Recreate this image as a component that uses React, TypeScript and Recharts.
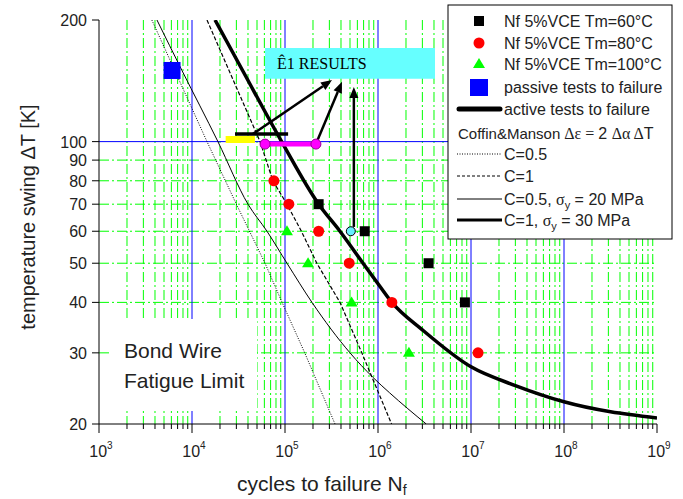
import React from 'react';
import {
  ComposedChart,
  Line,
  Scatter,
  XAxis,
  YAxis,
  CartesianGrid,
  ReferenceLine,
  ReferenceArea,
  Customized,
} from 'recharts';

// ---------- axis ticks / grid values ----------
const xMajorTicks = [1e3, 1e4, 1e5, 1e6, 1e7, 1e8, 1e9];
const xMinorTicks: number[] = [];
for (let k = 3; k < 9; k++) for (let m = 2; m <= 9; m++) xMinorTicks.push(m * Math.pow(10, k));
const xAllTicks = [...xMajorTicks, ...xMinorTicks].sort((a, b) => a - b);
const xBlueGrid = [1e4, 1e5, 1e6, 1e7, 1e8];
const yTicks = [20, 30, 40, 50, 60, 70, 80, 90, 100, 200];
const yGreenGrid = [30, 40, 50, 60, 70, 80, 90];
const yBlueGrid = [100];

// ---------- measured points (n = cycles, t = delta T) ----------
const passiveTests = [{ n: 6.1e3, t: 150 }];
const tm60 = [
  { n: 2.3e5, t: 70 },
  { n: 7.2e5, t: 60 },
  { n: 3.5e6, t: 50 },
  { n: 8.6e6, t: 40 },
];
const tm80 = [
  { n: 7.6e4, t: 80 },
  { n: 1.1e5, t: 70 },
  { n: 2.3e5, t: 60 },
  { n: 4.9e5, t: 50 },
  { n: 1.41e6, t: 40 },
  { n: 1.19e7, t: 30 },
];
const tm100 = [
  { n: 1.05e5, t: 60 },
  { n: 1.77e5, t: 50 },
  { n: 5.2e5, t: 40 },
  { n: 2.15e6, t: 30 },
];
const cyanPoint = [{ n: 5.1e5, t: 60 }];

// ---------- model curves ----------
const activeCurve = [
  { n: 1.77e4, t: 200 },
  { n: 3.5e4, t: 150 },
  { n: 9.2e4, t: 100 },
  { n: 2.3e5, t: 70 },
  { n: 3.9e5, t: 60 },
  { n: 6.9e5, t: 50 },
  { n: 1e6, t: 44.5 },
  { n: 1.41e6, t: 40 },
  { n: 3e6, t: 34.2 },
  { n: 1e7, t: 27.7 },
  { n: 3e7, t: 24.9 },
  { n: 1e8, t: 22.7 },
  { n: 1e9, t: 20.7 },
];
const cm05 = [
  { n: 3.7e3, t: 200 },
  { n: 1.45e4, t: 100 },
  { n: 3e4, t: 70 },
  { n: 6.1e4, t: 50 },
  { n: 9.3e4, t: 40 },
  { n: 1.63e5, t: 30 },
  { n: 3.45e5, t: 20 },
];
const cm1 = [
  { n: 1.45e4, t: 200 },
  { n: 5.4e4, t: 100 },
  { n: 7.4e4, t: 80 },
  { n: 1.05e5, t: 70 },
  { n: 1.5e5, t: 60 },
  { n: 2.2e5, t: 50 },
  { n: 3.9e5, t: 40 },
  { n: 6.7e5, t: 30 },
  { n: 1.4e6, t: 20 },
];
const cm05s20 = [
  { n: 4.2e3, t: 200 },
  { n: 7.8e3, t: 150 },
  { n: 1.9e4, t: 100 },
  { n: 4e4, t: 70 },
  { n: 6.4e4, t: 60 },
  { n: 1.05e5, t: 50 },
  { n: 1.95e5, t: 40 },
  { n: 5e5, t: 30 },
  { n: 8.8e5, t: 26.1 },
  { n: 1.33e6, t: 23.9 },
  { n: 3.3e6, t: 20 },
];

// ---------- annotation bars / arrows ----------
const yellowBar = [
  { n: 2.3e4, t: 101.2 },
  { n: 4.75e4, t: 101.2 },
];
const blackBar = [
  { n: 2.9e4, t: 104.4 },
  { n: 1.08e5, t: 104.4 },
];
const magentaBar = [
  { n: 6.1e4, t: 98.6 },
  { n: 2.15e5, t: 98.6 },
];
const arrows = [
  { n1: 4.5e4, t1: 104.4, n2: 3.2e5, t2: 142 },
  { n1: 2.15e5, t1: 98.6, n2: 4.1e5, t2: 140.6 },
  { n1: 5.5e5, t1: 61.5, n2: 5.5e5, t2: 136.6 },
];
const resultsBox = { n1: 6.1e4, n2: 4.1e6, t1: 143, t2: 170.6, label: 'Ê1 RESULTS' };

const SANS = 'Liberation Sans, Arial, sans-serif';
const SERIF = 'Liberation Serif, Times New Roman, serif';
const TXT = '#222';

const XTick = (p: any) => {
  const { x, y, payload } = p;
  const v = payload.value;
  const e = Math.round(Math.log10(v));
  const major = Math.abs(Math.pow(10, e) - v) < 1e-6 * v;
  return (
    <g>
      <line x1={x} y1={y} x2={x} y2={y + (major ? 9 : 5)} stroke="#000" strokeWidth={1} />
      {major && (
        <text x={x + 2} y={y + 33} textAnchor="middle" fontFamily={SANS} fontSize={16} fill={TXT}>
          10
          <tspan fontSize={10} dy={-8}>
            {e}
          </tspan>
        </text>
      )}
    </g>
  );
};

const YTick = (p: any) => {
  const { x, y, payload } = p;
  return (
    <g>
      <line x1={x} y1={y} x2={x - 7} y2={y} stroke="#000" strokeWidth={1} />
      <text x={x - 12} y={y + 6} textAnchor="end" fontFamily={SANS} fontSize={16} fill={TXT}>
        {payload.value}
      </text>
    </g>
  );
};

const ArrowShape = (p: any) => {
  const { x1, y1, x2, y2 } = p;
  const dx = x2 - x1;
  const dy = y2 - y1;
  const L = Math.hypot(dx, dy) || 1;
  const ux = dx / L;
  const uy = dy / L;
  const hl = 11;
  const hw = 4.5;
  const bx = x2 - ux * hl;
  const by = y2 - uy * hl;
  return (
    <g>
      <line x1={x1} y1={y1} x2={bx} y2={by} stroke="#000" strokeWidth={2.5} />
      <polygon
        points={`${x2},${y2} ${bx - uy * hw},${by + ux * hw} ${bx + uy * hw},${by - ux * hw}`}
        fill="#000"
      />
    </g>
  );
};

const SquareShape = (p: any) => <rect x={p.cx - 5} y={p.cy - 5} width={10} height={10} fill="#000" />;
const CircleShape = (p: any) => <circle cx={p.cx} cy={p.cy} r={5.5} fill="#ff0000" />;
const TriangleShape = (p: any) => (
  <polygon
    points={`${p.cx},${p.cy - 6} ${p.cx - 6},${p.cy + 4} ${p.cx + 6},${p.cy + 4}`}
    fill="#00ff00"
  />
);
const BigSquareShape = (p: any) => (
  <rect x={p.cx - 8.5} y={p.cy - 8.5} width={17} height={17} fill="#0000ff" />
);
const CyanShape = (p: any) => (
  <circle cx={p.cx} cy={p.cy} r={4.5} fill="#66eeff" stroke="#000" strokeWidth={1} />
);
const MagentaDot = (p: any) => (
  <circle key={p.index} cx={p.cx} cy={p.cy} r={5} fill="#ff00ff" stroke="#990099" strokeWidth={1} />
);

const Overlay = () => {
  const rows = [21, 43, 64, 87, 109, 133, 154, 176, 199, 220];
  const mx = 479;
  const tx = 504;
  const ls = 457;
  const le = 502;
  return (
    <g>
      {/* Bond wire text box */}
      <rect x={110} y={319} width={147} height={92} fill="#fff" />
      <text x={124} y={358} fontFamily={SANS} fontSize={21} fill={TXT}>
        Bond Wire
      </text>
      <text x={124} y={388} fontFamily={SANS} fontSize={21} fill={TXT}>
        Fatigue Limit
      </text>

      {/* axis titles */}
      <text x={237} y={491} fontFamily={SANS} fontSize={21} fill={TXT}>
        cycles to failure N
        <tspan fontSize={14} dy={4}>
          f
        </tspan>
      </text>
      <text
        x={35}
        y={217}
        transform="rotate(-90 35 217)"
        textAnchor="middle"
        fontFamily={SANS}
        fontSize={20}
        fill={TXT}
      >
        temperature swing ΔT [K]
      </text>

      {/* legend */}
      <rect x={448} y={5} width={224} height={234} fill="#fff" stroke="#000" strokeWidth={1} />
      <rect x={mx - 5} y={rows[0] - 5} width={10} height={10} fill="#000" />
      <circle cx={mx} cy={rows[1]} r={5.5} fill="#ff0000" />
      <polygon
        points={`${mx},${rows[2] - 6} ${mx - 6},${rows[2] + 4} ${mx + 6},${rows[2] + 4}`}
        fill="#00ff00"
      />
      <rect x={mx - 9} y={rows[3] - 8} width={18} height={17} fill="#0000ff" />
      <line x1={ls + 2} y1={rows[4]} x2={le - 2} y2={rows[4]} stroke="#000" strokeWidth={5} strokeLinecap="round" />
      <line x1={ls} y1={rows[6]} x2={le} y2={rows[6]} stroke="#000" strokeWidth={1} strokeDasharray="1 1.5" />
      <line x1={ls} y1={rows[7]} x2={le} y2={rows[7]} stroke="#000" strokeWidth={1} strokeDasharray="3 2" />
      <line x1={ls} y1={rows[8]} x2={le} y2={rows[8]} stroke="#000" strokeWidth={1} />
      <line x1={ls} y1={rows[9]} x2={le} y2={rows[9]} stroke="#000" strokeWidth={3} />
      <g fontFamily={SANS} fontSize={16} fill={TXT}>
        <text x={tx} y={rows[0] + 6}>Nf 5%VCE Tm=60°C</text>
        <text x={tx} y={rows[1] + 6}>Nf 5%VCE Tm=80°C</text>
        <text x={tx} y={rows[2] + 6}>Nf 5%VCE Tm=100°C</text>
        <text x={tx} y={rows[3] + 6}>passive tests to failure</text>
        <text x={tx} y={rows[4] + 6}>active tests to failure</text>
        <text x={458} y={rows[5] + 6} fontSize={15}>
          Coffin&amp;Manson
          <tspan fontFamily={SERIF} fontSize={16}> Δε = </tspan>
          <tspan fontSize={16}>2 </tspan>
          <tspan fontFamily={SERIF} fontSize={16}>Δα Δ</tspan>
          <tspan fontSize={16}>T</tspan>
        </text>
        <text x={tx} y={rows[6] + 6}>C=0.5</text>
        <text x={tx} y={rows[7] + 6}>C=1</text>
        <text x={tx} y={rows[8] + 6}>
          C=0.5, <tspan fontFamily={SERIF}>σ</tspan>
          <tspan fontSize={11} dy={4}>y</tspan>
          <tspan dy={-4}> = 20 MPa</tspan>
        </text>
        <text x={tx} y={rows[9] + 6}>
          C=1, <tspan fontFamily={SERIF}>σ</tspan>
          <tspan fontSize={11} dy={4}>y</tspan>
          <tspan dy={-4}> = 30 MPa</tspan>
        </text>
      </g>
    </g>
  );
};

export default function App() {
  return (
    <div style={{ width: 683, height: 499 }}>
      <style>{'body{margin:0}'}</style>
      <ComposedChart width={683} height={499} margin={{ top: 20, right: 26, bottom: 0, left: 0 }}>
        <CartesianGrid
          horizontalValues={yGreenGrid}
          verticalValues={xMinorTicks}
          stroke="#00ff00"
          strokeDasharray="10 3 2 3"
          strokeWidth={1}
        />
        <CartesianGrid
          horizontalValues={yBlueGrid}
          verticalValues={xBlueGrid}
          stroke="#0000ff"
          strokeWidth={1}
        />
        <XAxis
          dataKey="n"
          type="number"
          scale="log"
          domain={[1e3, 1e9]}
          allowDataOverflow
          ticks={xAllTicks}
          interval={0}
          tick={<XTick />}
          tickLine={false}
          tickSize={0}
          tickMargin={0}
          axisLine={{ stroke: '#000', strokeWidth: 1 }}
          height={75}
        />
        <YAxis
          dataKey="t"
          type="number"
          scale="log"
          domain={[20, 200]}
          allowDataOverflow
          ticks={yTicks}
          interval={0}
          tick={<YTick />}
          tickLine={false}
          tickSize={0}
          tickMargin={0}
          axisLine={{ stroke: '#000', strokeWidth: 1 }}
          width={99}
        />
        <Customized component={Overlay} />
        <ReferenceArea
          x1={resultsBox.n1}
          x2={resultsBox.n2}
          y1={resultsBox.t1}
          y2={resultsBox.t2}
          fill="#66ffff"
          fillOpacity={1}
          stroke="none"
          label={{
            value: resultsBox.label,
            position: 'insideLeft',
            offset: 12,
            fill: '#000',
            fontFamily: SERIF,
            fontSize: 16,
          }}
        />
        <Line data={cm05} dataKey="t" type="linear" stroke="#000" strokeWidth={1} strokeDasharray="1 1.5" dot={false} isAnimationActive={false} />
        <Line data={cm1} dataKey="t" type="linear" stroke="#000" strokeWidth={1.2} strokeDasharray="4 2" dot={false} isAnimationActive={false} />
        <Line data={cm05s20} dataKey="t" type="monotone" stroke="#000" strokeWidth={1} dot={false} isAnimationActive={false} />
        <Line data={activeCurve} dataKey="t" type="monotone" stroke="#000" strokeWidth={3.5} dot={false} isAnimationActive={false} />
        <Line data={yellowBar} dataKey="t" stroke="#ffff00" strokeWidth={7} dot={false} isAnimationActive={false} />
        <Line data={blackBar} dataKey="t" stroke="#000" strokeWidth={3.5} dot={false} isAnimationActive={false} />
        <Line data={magentaBar} dataKey="t" stroke="#ff00ff" strokeWidth={5} dot={MagentaDot} isAnimationActive={false} />
        {arrows.map((a, i) => (
          <ReferenceLine
            key={i}
            segment={[
              { x: a.n1, y: a.t1 },
              { x: a.n2, y: a.t2 },
            ]}
            shape={ArrowShape}
            ifOverflow="visible"
          />
        ))}
        <Scatter data={passiveTests} dataKey="t" shape={BigSquareShape} isAnimationActive={false} />
        <Scatter data={tm60} dataKey="t" shape={SquareShape} isAnimationActive={false} />
        <Scatter data={tm80} dataKey="t" shape={CircleShape} isAnimationActive={false} />
        <Scatter data={tm100} dataKey="t" shape={TriangleShape} isAnimationActive={false} />
        <Scatter data={cyanPoint} dataKey="t" shape={CyanShape} isAnimationActive={false} />
      </ComposedChart>
    </div>
  );
}
